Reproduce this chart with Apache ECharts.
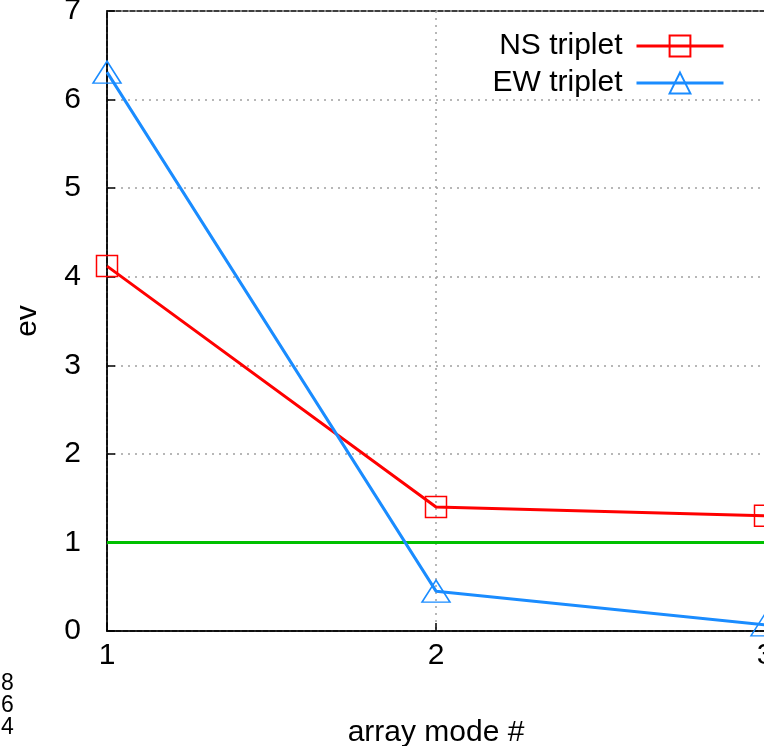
<!DOCTYPE html>
<html>
<head>
<meta charset="utf-8">
<script src="https://cdn.jsdelivr.net/npm/echarts@6/dist/echarts.min.js"></script>
<style>
  html, body { margin: 0; padding: 0; background: #fff; }
  #chart { width: 764px; height: 746px; }
</style>
</head>
<body>
<div id="chart"></div>
<script>
// Array modes on the x axis and eigenvalues for each triplet
const modes = [1, 2, 3];
const nsTriplet = [4.12, 1.40, 1.30];
const ewTriplet = [6.31, 0.45, 0.07];
const unityLevel = [1, 1, 1];
const yTicks = [0, 1, 2, 3, 4, 5, 6, 7];
const sideLabels = ['8', '6', '4'];

const font = '"Liberation Sans", Arial, sans-serif';
const pairs = (vals) => modes.map((m, i) => [m, vals[i]]);

const chart = echarts.init(document.getElementById('chart'));
chart.setOption({
  animation: false,
  backgroundColor: '#ffffff',
  grid: {
    left: 107, top: 11, width: 658, height: 620,
    outerBoundsMode: 'none',
    show: true, borderColor: '#000', borderWidth: 1.5, backgroundColor: 'transparent'
  },
  legend: {
    right: 34, top: 26, orient: 'vertical', align: 'right',
    itemWidth: 87, itemHeight: 26, itemGap: 7,
    lineStyle: { width: 3 },
    textStyle: { fontFamily: font, fontSize: 30, color: '#000', padding: [0, 9, 0, 0] },
    data: ['NS triplet', 'EW triplet']
  },
  xAxis: {
    type: 'value', min: 1, max: 3, interval: 1,
    name: 'array mode #', nameLocation: 'middle', nameGap: 87,
    nameTextStyle: { fontFamily: font, fontSize: 30, color: '#000' },
    axisLine: { show: true, lineStyle: { color: '#000', width: 1.5 } },
    axisTick: { show: true, inside: true, length: 8, lineStyle: { color: '#000', width: 1.5 } },
    axisLabel: { fontFamily: font, fontSize: 30, color: '#000', margin: 10 },
    splitLine: { show: true, lineStyle: { color: '#a0a0a0', type: [2, 5], width: 1.5 } }
  },
  yAxis: {
    type: 'value', min: yTicks[0], max: yTicks[yTicks.length - 1], interval: 1,
    name: 'ev', nameLocation: 'middle', nameGap: 64, nameRotate: 90,
    nameTextStyle: { fontFamily: font, fontSize: 30, color: '#000' },
    axisLine: { show: true, lineStyle: { color: '#000', width: 1.5 } },
    axisTick: { show: true, inside: true, length: 8, lineStyle: { color: '#000', width: 1.5 } },
    axisLabel: { fontFamily: font, fontSize: 30, color: '#000', margin: 26 },
    splitLine: { show: true, lineStyle: { color: '#a0a0a0', type: [2, 5], width: 1.5 } }
  },
  series: [
    {
      name: 'unity', type: 'line', data: pairs(unityLevel),
      symbol: 'none', lineStyle: { color: '#00c000', width: 3 }, z: 1
    },
    {
      name: 'NS triplet', type: 'line', data: pairs(nsTriplet),
      symbol: 'rect', symbolSize: 21,
      lineStyle: { color: '#ff0000', width: 3 },
      itemStyle: { color: 'rgba(0,0,0,0)', borderColor: '#ff0000', borderWidth: 1.5 },
      z: 3
    },
    {
      name: 'EW triplet', type: 'line', data: pairs(ewTriplet),
      symbol: 'triangle', symbolSize: [28, 22],
      lineStyle: { color: '#1a8cff', width: 3 },
      itemStyle: { color: 'rgba(0,0,0,0)', borderColor: '#1a8cff', borderWidth: 1.5 },
      z: 3
    }
  ],
  graphic: sideLabels.map((t, i) => ({
    type: 'text', left: 1, top: 672 + i * 22,
    style: { text: t, fontFamily: font, fontSize: 23, fill: '#000' }
  }))
});
</script>
</body>
</html>
